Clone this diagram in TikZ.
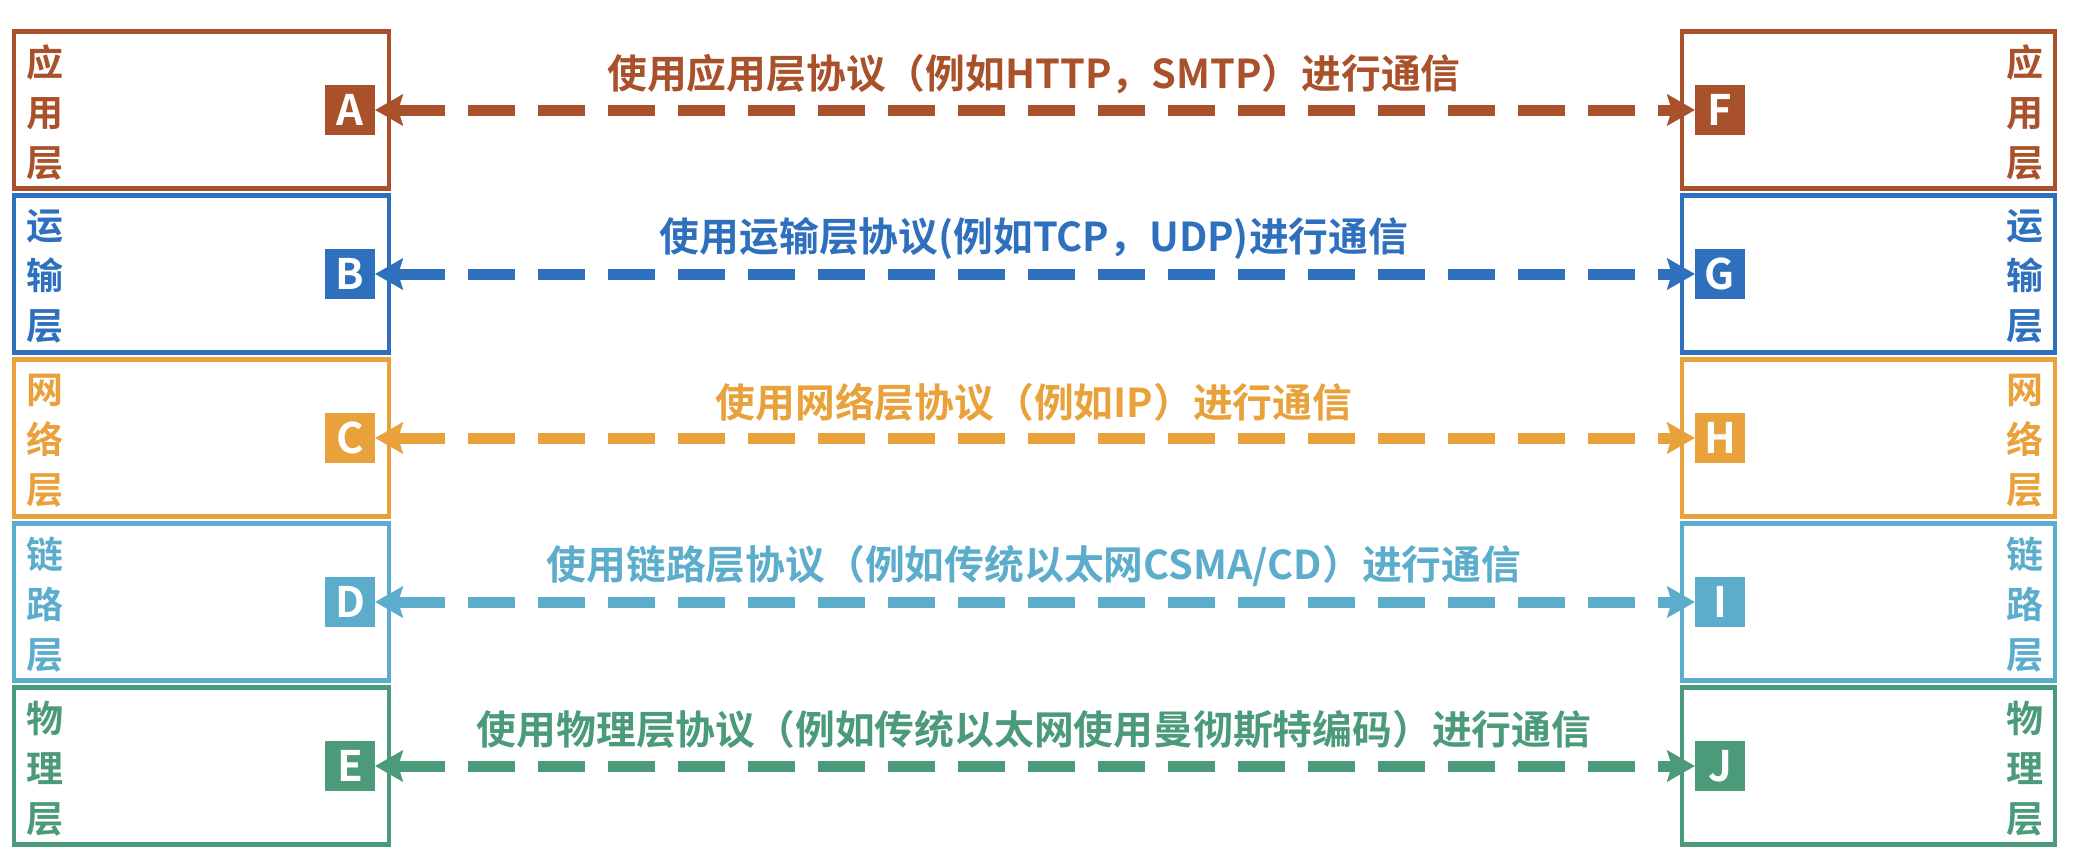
\documentclass[tikz,border=0pt]{standalone}
\usepackage{fontspec}
\setmainfont{Noto Sans CJK SC}[BoldFont={* Bold}]
\usetikzlibrary{arrows.meta}
\definecolor{cA}{RGB}{169,81,42}
\definecolor{cB}{RGB}{47,112,190}
\definecolor{cC}{RGB}{233,162,59}
\definecolor{cD}{RGB}{92,173,204}
\definecolor{cE}{RGB}{75,154,121}
\tikzset{
  layerbox/.style={draw=#1, line width=4.5pt, minimum width=375pt, minimum height=157pt, inner sep=0pt},
  badge/.style={fill=#1, text=white, minimum size=50pt, inner sep=0pt, font=\bfseries\fontsize{42}{42}\selectfont},
  sidelabel/.style={text=#1, align=center, inner sep=0pt, font=\bfseries\fontsize{37}{50}\selectfont},
  msg/.style={text=#1, inner sep=0pt, font=\bfseries\fontsize{39.8}{40}\selectfont},
  peer/.style={draw=#1, line width=11pt, dash pattern=on 47pt off 23pt,
    {Stealth[length=28pt,width=32pt,inset=5pt,line width=0.5pt]}-{Stealth[length=28pt,width=32pt,inset=5pt,line width=0.5pt]}}
}
\begin{document}
\begin{tikzpicture}[x=1pt,y=-1pt]
\useasboundingbox (0,0) rectangle (2076,862);
\foreach \i/\col/\l/\r/\lab/\txt in {
  0/cA/A/F/{应\\用\\层}/{使用应用层协议（例如HTTP，SMTP）进行通信},
  1/cB/B/G/{运\\输\\层}/{使用运输层协议(例如TCP，UDP)进行通信},
  2/cC/C/H/{网\\络\\层}/{使用网络层协议（例如IP）进行通信},
  3/cD/D/I/{链\\路\\层}/{使用链路层协议（例如传统以太网CSMA/CD）进行通信},
  4/cE/E/J/{物\\理\\层}/{使用物理层协议（例如传统以太网使用曼彻斯特编码）进行通信}}
{
  \pgfmathsetmacro{\yc}{110+164*\i}
  \node[layerbox=\col] (left\l) at (201.5,\yc) {};
  \node[layerbox=\col, minimum width=373pt] (right\r) at (1868.5,\yc) {};
  \node[sidelabel=\col] (ll\l) at (45,\yc+2.5) {\lab};
  \node[sidelabel=\col] (rl\r) at (2025,\yc+2.5) {\lab};
  \node[badge=\col] (\l) at (350,\yc) {\l};
  \node[badge=\col] (\r) at (1720,\yc) {\r};
  \node[msg=\col] (m\l) at (1034,\yc-36) {\txt};
  \draw[peer=\col] (\l.east) -- (\r.west);
}
\end{tikzpicture}
\end{document}
